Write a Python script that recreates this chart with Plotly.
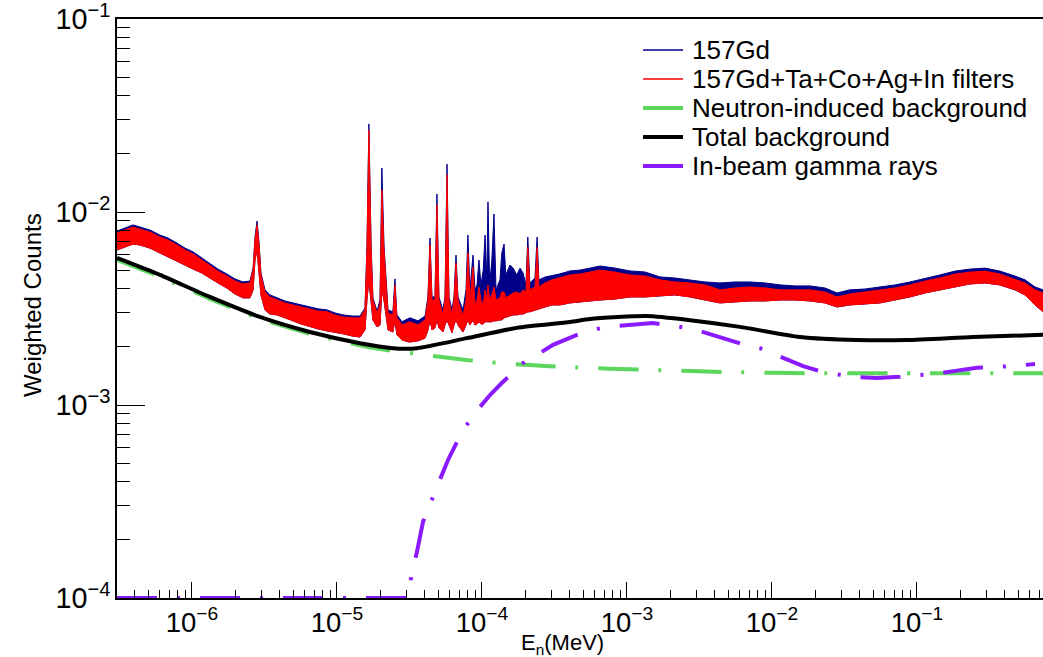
import plotly.graph_objects as go

# ---- spectrum energies (MeV) ----
energy = [3.04e-7, 3.45e-7, 3.92e-7, 4.38e-7, 5.13e-7, 6.01e-7, 6.83e-7, 7.88e-7, 8.95e-7, 1.02e-6,
          1.17e-6, 1.33e-6, 1.51e-6, 1.74e-6, 1.98e-6, 2.25e-6, 2.51e-6, 2.64e-6, 2.72e-6, 2.81e-6,
          2.90e-6, 2.99e-6, 3.19e-6, 3.45e-6, 3.86e-6, 4.38e-6, 4.97e-6, 5.65e-6, 6.52e-6, 7.40e-6,
          8.53e-6, 9.69e-6, 1.10e-5, 1.27e-5, 1.44e-5, 1.56e-5, 1.61e-5, 1.66e-5, 1.72e-5, 1.77e-5,
          1.89e-5, 1.98e-5, 2.04e-5, 2.11e-5, 2.25e-5, 2.43e-5, 2.51e-5, 2.59e-5, 2.81e-5, 3.18e-5,
          3.62e-5, 4.05e-5, 4.24e-5, 4.38e-5, 4.52e-5, 4.74e-5, 4.89e-5, 5.05e-5, 5.38e-5, 5.56e-5,
          5.74e-5, 5.92e-5, 6.21e-5, 6.41e-5, 6.62e-5, 6.83e-5, 7.40e-5, 7.76e-5, 8.00e-5, 8.26e-5,
          8.67e-5, 8.95e-5, 9.24e-5, 9.53e-5, 9.84e-5, 1.02e-4, 1.05e-4, 1.08e-4, 1.10e-4, 1.13e-4,
          1.17e-4, 1.21e-4, 1.25e-4, 1.33e-4, 1.37e-4, 1.42e-4, 1.46e-4, 1.56e-4, 1.64e-4, 1.74e-4,
          1.83e-4, 1.92e-4, 2.01e-4, 2.07e-4, 2.14e-4, 2.32e-4, 2.40e-4, 2.47e-4, 2.72e-4, 3.04e-4,
          3.45e-4, 4.05e-4, 4.74e-4, 5.56e-4, 6.52e-4, 8.26e-4, 1.05e-3, 1.33e-3, 1.69e-3, 2.14e-3,
          2.72e-3, 3.45e-3, 4.38e-3, 5.56e-3, 7.05e-3, 8.95e-3, 1.14e-2, 1.44e-2, 1.83e-2, 2.32e-2,
          2.81e-2, 3.45e-2, 4.38e-2, 5.56e-2, 7.05e-2, 8.95e-2, 0.114, 0.144, 0.183, 0.232,
          0.294, 0.373, 0.474, 0.556, 0.652, 0.74]

# upper edge of the 157Gd spectrum (noise band top)
gd157_hi = [7.97e-3, 8.26e-3, 8.57e-3, 8.36e-3, 8.07e-3, 7.60e-3, 7.33e-3, 6.90e-3, 6.50e-3, 6.21e-3,
            5.78e-3, 5.38e-3, 5.06e-3, 4.77e-3, 4.50e-3, 4.34e-3, 4.39e-3, 5.12e-3, 7.42e-3, 8.98e-3,
            7.00e-3, 4.83e-3, 3.95e-3, 3.72e-3, 3.59e-3, 3.46e-3, 3.38e-3, 3.30e-3, 3.22e-3, 3.15e-3,
            3.11e-3, 3.00e-3, 2.93e-3, 2.89e-3, 2.89e-3, 3.18e-3, 6.75e-3, 2.86e-2, 6.75e-3, 3.59e-3,
            3.07e-3, 3.50e-3, 1.69e-2, 6.75e-3, 3.11e-3, 3.04e-3, 4.50e-3, 2.93e-3, 2.70e-3, 2.83e-3,
            2.73e-3, 2.89e-3, 3.63e-3, 7.33e-3, 3.63e-3, 3.63e-3, 1.24e-2, 3.63e-3, 3.11e-3, 3.63e-3,
            1.77e-2, 3.63e-3, 3.11e-3, 3.63e-3, 5.98e-3, 3.63e-3, 3.11e-3, 3.95e-3, 7.60e-3, 3.95e-3,
            5.98e-3, 3.95e-3, 4.19e-3, 5.64e-3, 4.19e-3, 5.00e-3, 7.60e-3, 4.45e-3, 1.13e-2, 4.19e-3,
            5.64e-3, 9.77e-3, 3.95e-3, 4.45e-3, 6.14e-3, 6.82e-3, 4.72e-3, 5.31e-3, 5.12e-3, 4.72e-3,
            5.12e-3, 4.83e-3, 4.19e-3, 7.42e-3, 4.29e-3, 4.55e-3, 7.42e-3, 4.45e-3, 4.60e-3, 4.67e-3,
            4.78e-3, 4.95e-3, 5.00e-3, 5.12e-3, 5.25e-3, 5.12e-3, 4.95e-3, 4.89e-3, 4.61e-3, 4.55e-3,
            4.45e-3, 4.34e-3, 4.29e-3, 4.34e-3, 4.34e-3, 4.29e-3, 4.19e-3, 4.14e-3, 4.14e-3, 4.04e-3,
            3.81e-3, 3.95e-3, 3.99e-3, 4.09e-3, 4.19e-3, 4.34e-3, 4.55e-3, 4.72e-3, 4.94e-3, 5.06e-3,
            5.12e-3, 4.94e-3, 4.66e-3, 4.45e-3, 4.09e-3, 3.95e-3]

# upper / lower edge of the filtered spectrum (noise band)
filt_hi = [7.79e-3, 8.07e-3, 8.36e-3, 8.16e-3, 7.88e-3, 7.42e-3, 7.16e-3, 6.75e-3, 6.36e-3, 6.07e-3,
           5.64e-3, 5.25e-3, 4.94e-3, 4.66e-3, 4.39e-3, 4.24e-3, 4.29e-3, 5.00e-3, 7.16e-3, 8.57e-3,
           6.75e-3, 4.72e-3, 3.85e-3, 3.63e-3, 3.50e-3, 3.38e-3, 3.30e-3, 3.22e-3, 3.15e-3, 3.07e-3,
           3.04e-3, 2.93e-3, 2.86e-3, 2.83e-3, 2.83e-3, 3.11e-3, 6.36e-3, 2.66e-2, 6.36e-3, 3.50e-3,
           3.00e-3, 3.30e-3, 1.30e-2, 6.36e-3, 3.00e-3, 2.93e-3, 4.19e-3, 2.83e-3, 2.60e-3, 2.70e-3,
           2.60e-3, 2.76e-3, 3.50e-3, 6.75e-3, 3.50e-3, 3.50e-3, 1.09e-2, 3.50e-3, 2.93e-3, 3.50e-3,
           1.56e-2, 3.50e-3, 2.93e-3, 3.50e-3, 5.44e-3, 3.50e-3, 2.89e-3, 3.50e-3, 6.14e-3, 3.50e-3,
           5.19e-3, 3.30e-3, 3.50e-3, 4.09e-3, 3.50e-3, 3.30e-3, 3.95e-3, 3.50e-3, 4.19e-3, 3.50e-3,
           3.72e-3, 4.09e-3, 3.50e-3, 3.59e-3, 3.85e-3, 3.85e-3, 3.59e-3, 3.72e-3, 3.81e-3, 3.85e-3,
           3.76e-3, 3.95e-3, 3.85e-3, 6.58e-3, 3.95e-3, 4.09e-3, 6.58e-3, 4.09e-3, 4.29e-3, 4.45e-3,
           4.55e-3, 4.72e-3, 4.77e-3, 4.88e-3, 5.00e-3, 4.88e-3, 4.72e-3, 4.66e-3, 4.45e-3, 4.34e-3,
           4.29e-3, 4.19e-3, 3.95e-3, 4.04e-3, 4.09e-3, 4.04e-3, 3.95e-3, 3.95e-3, 3.95e-3, 3.85e-3,
           3.63e-3, 3.76e-3, 3.85e-3, 3.95e-3, 4.04e-3, 4.19e-3, 4.39e-3, 4.55e-3, 4.77e-3, 4.88e-3,
           4.94e-3, 4.77e-3, 4.50e-3, 4.29e-3, 3.95e-3, 3.81e-3]

filt_lo = [6.36e-3, 6.58e-3, 6.82e-3, 6.75e-3, 6.50e-3, 6.14e-3, 5.85e-3, 5.58e-3, 5.31e-3, 5.06e-3,
           4.83e-3, 4.55e-3, 4.29e-3, 4.04e-3, 3.76e-3, 3.59e-3, 3.59e-3, 3.95e-3, 5.64e-3, 6.36e-3,
           5.00e-3, 3.72e-3, 3.11e-3, 2.96e-3, 2.93e-3, 2.83e-3, 2.73e-3, 2.63e-3, 2.54e-3, 2.48e-3,
           2.42e-3, 2.37e-3, 2.34e-3, 2.28e-3, 2.25e-3, 2.45e-3, 3.50e-3, 4.45e-3, 3.50e-3, 2.76e-3,
           2.54e-3, 2.60e-3, 3.95e-3, 3.50e-3, 2.45e-3, 2.39e-3, 2.76e-3, 2.31e-3, 2.17e-3, 2.12e-3,
           2.15e-3, 2.22e-3, 2.45e-3, 2.76e-3, 2.45e-3, 2.51e-3, 2.76e-3, 2.51e-3, 2.39e-3, 2.60e-3,
           2.76e-3, 2.60e-3, 2.37e-3, 2.60e-3, 2.76e-3, 2.60e-3, 2.39e-3, 2.60e-3, 2.76e-3, 2.60e-3,
           2.76e-3, 2.60e-3, 2.63e-3, 2.70e-3, 2.63e-3, 2.63e-3, 2.70e-3, 2.70e-3, 2.70e-3, 2.70e-3,
           2.70e-3, 2.73e-3, 2.73e-3, 2.76e-3, 2.76e-3, 2.83e-3, 2.83e-3, 2.89e-3, 2.93e-3, 2.93e-3,
           2.96e-3, 2.96e-3, 3.00e-3, 3.04e-3, 3.04e-3, 3.11e-3, 3.11e-3, 3.15e-3, 3.22e-3, 3.30e-3,
           3.30e-3, 3.38e-3, 3.42e-3, 3.46e-3, 3.50e-3, 3.54e-3, 3.63e-3, 3.63e-3, 3.67e-3, 3.72e-3,
           3.63e-3, 3.50e-3, 3.38e-3, 3.42e-3, 3.46e-3, 3.46e-3, 3.50e-3, 3.50e-3, 3.46e-3, 3.38e-3,
           3.22e-3, 3.30e-3, 3.34e-3, 3.38e-3, 3.50e-3, 3.63e-3, 3.81e-3, 3.95e-3, 4.09e-3, 4.24e-3,
           4.29e-3, 4.19e-3, 3.95e-3, 3.72e-3, 3.30e-3, 3.04e-3]

# ---- backgrounds ----
total_E = [3.04e-7, 6.01e-7, 1.33e-6, 2.94e-6, 6.51e-6, 1.44e-5, 2.43e-5, 3.56e-5, 7.88e-5, 1.74e-4,
           4.05e-4, 5.56e-4, 1.37e-3, 2.72e-3, 6.01e-3, 1.56e-2, 3.85e-2, 8.53e-2, 0.243, 0.74]
total_bkg = [5.78e-3, 4.72e-3, 3.63e-3, 2.86e-3, 2.39e-3, 2.09e-3, 1.97e-3, 1.97e-3, 2.22e-3, 2.51e-3,
             2.69e-3, 2.79e-3, 2.89e-3, 2.75e-3, 2.54e-3, 2.25e-3, 2.17e-3, 2.17e-3, 2.25e-3, 2.31e-3]

neutron_E = [3.04e-7, 6.01e-7, 1.33e-6, 2.94e-6, 6.51e-6, 1.44e-5, 1.98e-5, 3.18e-5, 6.01e-5, 1.08e-4,
             2.14e-4, 3.86e-4, 1.44e-3, 5.38e-3, 2.04e-2, 8.0e-2, 0.74]
neutron_bkg = [5.65e-3, 4.62e-3, 3.55e-3, 2.80e-3, 2.34e-3, 2.04e-3, 1.95e-3, 1.86e-3, 1.75e-3, 1.67e-3,
               1.61e-3, 1.57e-3, 1.52e-3, 1.48e-3, 1.46e-3, 1.46e-3, 1.46e-3]

gamma_E = [3.04e-7, 3.09e-5, 3.29e-5, 3.56e-5, 3.92e-5, 4.38e-5, 4.89e-5, 5.83e-5, 6.52e-5, 7.40e-5,
           9.69e-5, 1.14e-4, 1.37e-4, 1.92e-4, 2.40e-4, 3.09e-4, 4.52e-4, 6.21e-4, 8.53e-4, 1.51e-3,
           2.07e-3, 2.85e-3, 4.59e-3, 6.21e-3, 8.26e-3, 1.29e-2, 1.64e-2, 2.25e-2, 3.62e-2, 5.30e-2,
           7.63e-2, 0.133, 0.189, 0.259, 0.452, 0.652]
gamma = [1.0e-4, 1.0e-4, 1.36e-4, 1.73e-4, 2.48e-4, 3.10e-4, 3.76e-4, 5.19e-4, 6.21e-4, 7.42e-4,
         9.77e-4, 1.13e-3, 1.30e-3, 1.65e-3, 1.82e-3, 2.05e-3, 2.31e-3, 2.48e-3, 2.57e-3, 2.66e-3,
         2.57e-3, 2.48e-3, 2.22e-3, 2.07e-3, 1.97e-3, 1.71e-3, 1.59e-3, 1.48e-3, 1.40e-3, 1.38e-3,
         1.40e-3, 1.45e-3, 1.50e-3, 1.56e-3, 1.59e-3, 1.63e-3]

names = ["157Gd", "157Gd+Ta+Co+Ag+In filters", "Neutron-induced background",
         "Total background", "In-beam gamma rays"]

BLUE = "#00008b"
RED = "#ff0000"
GREEN = "#5cd65c"
BLACK = "#000000"
PURPLE = "#8c1aff"
DASH = "40px,20px,3px,20px"
FONT = "Liberation Sans"

W, H = 1043, 657
ML, MR, MT, MB = 117, 0, 19, 59
PW, PH = W - ML - MR, H - MT - MB


def px2paper(px, py):
    return (px - ML) / PW, (H - MB - py) / PH


fig = go.Figure()

# 157Gd band
fig.add_trace(go.Scatter(x=energy + energy[::-1], y=gd157_hi + filt_lo[::-1],
                         fill="toself", fillcolor=BLUE, mode="lines",
                         line=dict(color=BLUE, width=1), showlegend=False, hoverinfo="skip"))
# filtered band
fig.add_trace(go.Scatter(x=energy + energy[::-1], y=filt_hi + filt_lo[::-1],
                         fill="toself", fillcolor=RED, mode="lines",
                         line=dict(color=RED, width=1), showlegend=False, hoverinfo="skip"))

fig.add_trace(go.Scatter(x=neutron_E, y=neutron_bkg, mode="lines", showlegend=False,
                         line=dict(color=GREEN, width=4, dash=DASH, shape="spline", smoothing=0.6)))
fig.add_trace(go.Scatter(x=gamma_E, y=gamma, mode="lines", showlegend=False,
                         line=dict(color=PURPLE, width=4, dash=DASH)))
fig.add_trace(go.Scatter(x=total_E, y=total_bkg, mode="lines", showlegend=False,
                         line=dict(color=BLACK, width=4, shape="spline", smoothing=0.6)))

fig.update_layout(
    width=W, height=H,
    margin=dict(l=ML, r=MR, t=MT, b=MB),
    paper_bgcolor="white", plot_bgcolor="white",
    font=dict(family=FONT, size=20, color="black"),
    showlegend=False,
)

fig.update_xaxes(type="log", range=[-6.517, -0.131], dtick=1, exponentformat="power",
                 showline=True, linecolor="black", linewidth=2, mirror=True,
                 ticks="inside", ticklen=16, tickwidth=1, tickcolor="black",
                 ticklabeloverflow="allow",
                 minor=dict(ticks="inside", ticklen=8, dtick="D1", tickcolor="black", showgrid=False),
                 showgrid=False, zeroline=False, tickfont=dict(size=22, family=FONT))
fig.update_yaxes(type="log", range=[-4, -1], dtick=1, exponentformat="power",
                 showline=True, linecolor="black", linewidth=2,
                 ticks="inside", ticklen=28, tickwidth=1, tickcolor="black",
                 ticklabeloverflow="allow",
                 minor=dict(ticks="inside", ticklen=13, dtick="D1", tickcolor="black", showgrid=False),
                 showgrid=False, zeroline=False, tickfont=dict(size=23, family=FONT))

# axis titles
tx, ty = px2paper(32, 305)
fig.add_annotation(text="Weighted Counts", x=tx, y=ty, xref="paper", yref="paper",
                   xanchor="center", yanchor="middle",
                   textangle=-90, showarrow=False, font=dict(size=24, family=FONT))
tx, ty = px2paper(562, 644)
fig.add_annotation(text="E<sub>n</sub>(MeV)", x=tx, y=ty, xref="paper", yref="paper",
                   xanchor="center", yanchor="middle",
                   showarrow=False, font=dict(size=22, family=FONT))

# legend (drawn as lines + text to match the tight ROOT layout)
leg_colors = [BLUE, RED, GREEN, BLACK, PURPLE]
leg_widths = [1.5, 1.5, 4, 4, 4]
leg_rows = [50, 79, 108, 137, 166]
for name, col, lw, py in zip(names, leg_colors, leg_widths, leg_rows):
    x0, y0 = px2paper(643, py)
    x1, _ = px2paper(683, py)
    fig.add_shape(type="line", xref="paper", yref="paper", x0=x0, x1=x1, y0=y0, y1=y0,
                  line=dict(color=col, width=lw))
    tx, ty = px2paper(690, py)
    fig.add_annotation(text=name, x=tx, y=ty, xref="paper", yref="paper",
                       xanchor="left", yanchor="middle", showarrow=False,
                       font=dict(size=26, family=FONT))

fig.write_html("out.html")
